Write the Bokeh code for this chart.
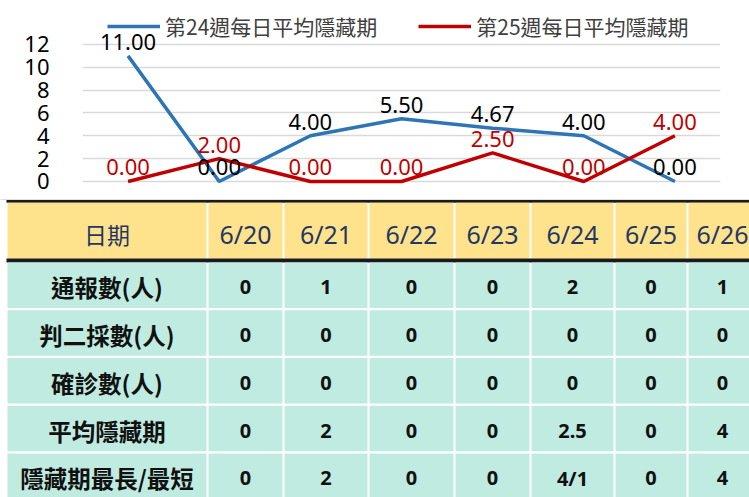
from bokeh.plotting import figure
from bokeh.models import (ColumnDataSource, Range1d, FactorRange, FixedTicker,
                          LabelSet, Legend, LegendItem)
from bokeh.layouts import column
from bokeh.core.properties import value
from bokeh.embed import file_html
from bokeh.resources import INLINE

# ---------------- data ----------------
dates = ["6/20", "6/21", "6/22", "6/23", "6/24", "6/25", "6/26"]
week24_avg = [11.00, 0.00, 4.00, 5.50, 4.67, 4.00, 0.00]
week25_avg = [0.00, 2.00, 0.00, 0.00, 2.50, 0.00, 4.00]
series_names = ["第24週每日平均隱藏期", "第25週每日平均隱藏期"]
y_ticks = [0, 2, 4, 6, 8, 10, 12]

header_label = "日期"
row_labels = ["通報數(人)", "判二採數(人)", "確診數(人)", "平均隱藏期", "隱藏期最長/最短"]
reports = ["0", "1", "0", "0", "2", "0", "1"]
second_screen = ["0", "0", "0", "0", "0", "0", "0"]
confirmed = ["0", "0", "0", "0", "0", "0", "0"]
avg_incubation = ["0", "2", "0", "0", "2.5", "0", "4"]
max_min_incubation = ["0", "2", "0", "0", "4/1", "0", "4"]
table_rows = [reports, second_screen, confirmed, avg_incubation, max_min_incubation]

# ---------------- styles / layout ----------------
CJK = "Noto Sans CJK TC"
NUM = "Noto Sans"
BLUE = "#2E75B6"
RED = "#C00000"
W = 749
CH = 199          # chart height
TH = 298          # table height

# ---------------- line chart ----------------
chart = figure(width=W, height=CH, x_range=FactorRange(*dates),
               y_range=Range1d(-1.58, 15.85), x_axis_location=None,
               output_backend="svg", toolbar_location=None,
               min_border_left=82, min_border_right=29,
               min_border_top=0, min_border_bottom=0)
chart.frame_align = False
chart.outline_line_color = None
chart.xgrid.grid_line_color = None
chart.ygrid.grid_line_color = "#D9D9D9"
chart.ygrid.grid_line_width = 1.5
chart.yaxis.ticker = FixedTicker(ticks=y_ticks)
chart.yaxis.axis_line_color = None
chart.yaxis.major_tick_line_color = None
chart.yaxis.minor_tick_line_color = None
chart.yaxis.major_label_standoff = 27
chart.yaxis.major_label_text_font = NUM
chart.yaxis.major_label_text_font_size = "22px"
chart.yaxis.major_label_text_color = "#000000"

src = ColumnDataSource(dict(
    x=dates, w24=week24_avg, w25=week25_avg,
    t24=[f"{v:.2f}" for v in week24_avg],
    t25=[f"{v:.2f}" for v in week25_avg],
))
r24 = chart.line("x", "w24", source=src, line_color=BLUE, line_width=3.5)
r25 = chart.line("x", "w25", source=src, line_color=RED, line_width=3.5)

chart.add_layout(LabelSet(x="x", y="w24", text="t24", source=src,
                          text_align="center", text_baseline="alphabetic",
                          y_offset=6, text_font=value(NUM),
                          text_font_size="22px", text_color="#000000"))
chart.add_layout(LabelSet(x="x", y="w25", text="t25", source=src,
                          text_align="center", text_baseline="alphabetic",
                          y_offset=6, text_font=value(NUM),
                          text_font_size="22px", text_color=RED))

legend = Legend(items=[LegendItem(label=series_names[0], renderers=[r24]),
                       LegendItem(label=series_names[1], renderers=[r25])],
                orientation="horizontal", location=(25, 158),
                glyph_width=53, glyph_height=20, label_height=20,
                label_standoff=5, spacing=41, padding=0, margin=0,
                border_line_color=None, background_fill_alpha=0,
                label_text_font=CJK, label_text_font_size="21px",
                label_text_color="#404040")
chart.add_layout(legend, "center")

# ---------------- table ----------------
table = figure(width=W, height=TH, x_range=Range1d(0, W), y_range=Range1d(TH, 0),
               output_backend="svg", toolbar_location=None,
               x_axis_location=None, y_axis_location=None,
               min_border=0, min_border_left=0, min_border_right=0,
               min_border_top=0, min_border_bottom=0)
table.frame_align = False
table.outline_line_color = None
table.grid.visible = False

col_bounds = [7, 207, 283, 368, 454, 530, 614, 687, 770]
gap = 1
n_cols = len(dates) + 1
lefts = [col_bounds[i] + (gap if i > 0 else 0) for i in range(n_cols)]
rights = [col_bounds[i + 1] - gap for i in range(n_cols)]
centers = [(lefts[i] + rights[i]) / 2 for i in range(n_cols)]
centers[-1] = 722   # keep the last column's text inside the window

# top rules
table.quad(left=[-2], right=[W + 2], top=[-1], bottom=[0.6], fill_color="#BFBFBF", line_color=None)
table.quad(left=[6], right=[W + 2], top=[0.6], bottom=[3.2], fill_color="#1A1A1A", line_color=None)

# header
head_top, head_bot = 3.2, 59
table.quad(left=lefts, right=rights, top=[head_top] * n_cols, bottom=[head_bot] * n_cols,
           fill_color="#FFE28C", line_color=None)
table.quad(left=[6], right=[W + 2], top=[head_bot], bottom=[63], fill_color="#1A1A1A", line_color=None)
head_y = (head_top + head_bot) / 2 + 3
table.text(x=[centers[0]], y=[head_y], text=[header_label], text_align="center",
           text_baseline="middle", text_font=value(CJK), text_font_size="23px",
           text_color="#1F3864")
table.text(x=centers[1:], y=[head_y] * len(dates), text=dates, text_align="center",
           text_baseline="middle", text_font=value(NUM), text_font_size="25px",
           text_color="#1F3864")

# body
body_top, pitch, row_h = 63, 47.75, 45.5
qs = dict(left=[], right=[], top=[], bottom=[])
lx, ly, lt = [], [], []
vx, vy, vt = [], [], []
for r, (lab, vals) in enumerate(zip(row_labels, table_rows)):
    top = body_top + r * pitch
    bot = top + row_h
    cy = (top + bot) / 2 + 2
    for c in range(n_cols):
        qs["left"].append(lefts[c]); qs["right"].append(rights[c])
        qs["top"].append(top); qs["bottom"].append(bot)
    lx.append(centers[0]); ly.append(cy); lt.append(lab)
    for c, v in enumerate(vals):
        vx.append(centers[c + 1]); vy.append(cy); vt.append(v)
table.quad(source=ColumnDataSource(qs), left="left", right="right", top="top",
           bottom="bottom", fill_color="#BFEBE0", line_color=None)
table.text(x=lx, y=ly, text=lt, text_font_size="23.5px", text_align="center",
           text_baseline="middle", text_font=value(CJK), text_font_style="bold",
           text_color="#111111")
table.text(x=vx, y=vy, text=vt, text_font_size="20px", text_align="center",
           text_baseline="middle", text_font=value(NUM), text_font_style="bold",
           text_color="#111111")

layout = column(chart, table, spacing=0)
open("out.html", "w").write(file_html(layout, INLINE))
